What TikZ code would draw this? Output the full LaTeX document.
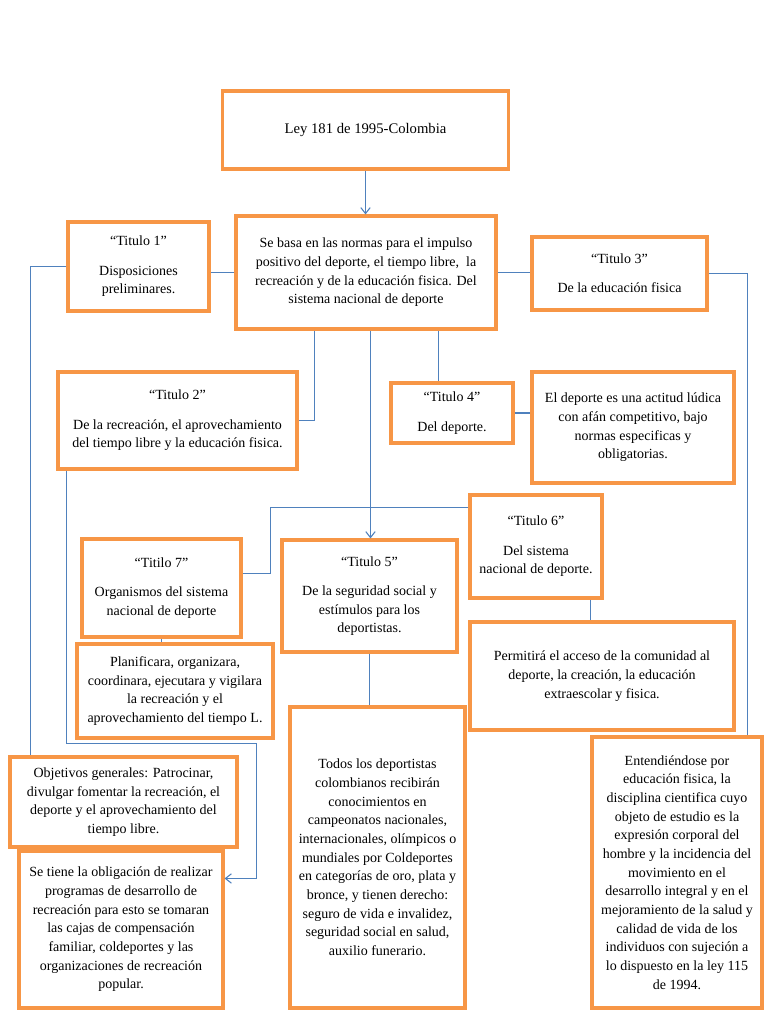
\documentclass[tikz,border=0pt]{standalone}
\usepackage{fontspec}
\setmainfont{Liberation Serif}
\usetikzlibrary{arrows.meta,calc}
\definecolor{boxorange}{HTML}{F79646}
\definecolor{lineblue}{HTML}{4F81BD}
\tikzset{
  box/.style={draw=boxorange, line width=2.3pt, fill=white, align=center,
    font=\fontsize{10.5pt}{14pt}\selectfont, inner sep=2pt},
  conn/.style={draw=lineblue, line width=0.8pt},
  arr/.style={conn, -{Straight Barb[length=4.5pt,width=7pt]}},
}
\newcommand{\tgap}{\\[8pt]}
\begin{document}
\begin{tikzpicture}[x=0.75pt,y=-0.75pt]
\useasboundingbox (0,0) rectangle (768,1024);
\fill[white] (0,0) rectangle (768,1024);

\node[box, minimum width=286*0.75pt, minimum height=78*0.75pt, font=\fontsize{11pt}{14pt}\selectfont] (ley) at (365.5,130) {Ley 181 de 1995-Colombia};
\node[box, minimum width=260*0.75pt, minimum height=113*0.75pt] (main) at (366,272.5) {Se basa en las normas para el impulso\\ positivo del deporte, el tiempo libre,\ \ la\\ recreación y de la educación fisica. Del\\ sistema nacional de deporte};
\node[box, minimum width=141*0.75pt, minimum height=89*0.75pt] (t1) at (138.5,266.5) {“Titulo 1”\tgap Disposiciones\\ preliminares.};
\node[box, minimum width=239*0.75pt, minimum height=97*0.75pt] (t2) at (177.5,420.5) {“Titulo 2”\tgap De la recreación, el aprovechamiento\\ del tiempo libre y la educación fisica.};
\node[box, minimum width=175*0.75pt, minimum height=73*0.75pt] (t3) at (619.5,273.5) {“Titulo 3”\tgap De la educación fisica};
\node[box, minimum width=122*0.75pt, minimum height=60*0.75pt] (t4) at (452,413) {“Titulo 4”\tgap Del deporte.};
\node[box, minimum width=202*0.75pt, minimum height=111*0.75pt] (dep) at (633,427.5) {El deporte es una actitud lúdica\\ con afán competitivo, bajo\\ normas especificas y\\ obligatorias.};
\node[box, minimum width=132*0.75pt, minimum height=103*0.75pt] (t6) at (536,546.5) {“Titulo 6”\tgap Del sistema\\ nacional de deporte.};
\node[box, minimum width=175*0.75pt, minimum height=112*0.75pt] (t5) at (369.5,596) {“Titulo 5”\tgap De la seguridad social y\\ estímulos para los\\ deportistas.};
\node[box, minimum width=159*0.75pt, minimum height=98*0.75pt] (t7) at (161.5,588) {“Titilo 7”\tgap Organismos del sistema\\ nacional de deporte};
\node[box, minimum width=196*0.75pt, minimum height=94*0.75pt] (plan) at (175,691) {Planificara, organizara,\\ coordinara, ejecutara y vigilara\\ la recreación y el\\ aprovechamiento del tiempo L.};
\node[box, minimum width=264*0.75pt, minimum height=108*0.75pt] (perm) at (602,676) {Permitirá el acceso de la comunidad al\\ deporte, la creación, la educación\\ extraescolar y fisica.};
\node[box, minimum width=175*0.75pt, minimum height=301*0.75pt] (todos) at (377.5,857.5) {Todos los deportistas\\ colombianos recibirán\\ conocimientos en\\ campeonatos nacionales,\\ internacionales, olímpicos o\\ mundiales por Coldeportes\\ en categorías de oro, plata y\\ bronce, y tienen derecho:\\ seguro de vida e invalidez,\\ seguridad social en salud,\\ auxilio funerario.};
\node[box, minimum width=170*0.75pt, minimum height=271*0.75pt] (ent) at (677,872.5) {Entendiéndose por\\ educación fisica, la\\ disciplina cientifica cuyo\\ objeto de estudio es la\\ expresión corporal del\\ hombre y la incidencia del\\ movimiento en el\\ desarrollo integral y en el\\ mejoramiento de la salud y\\ calidad de vida de los\\ individuos con sujeción a\\ lo dispuesto en la ley 115\\ de 1994.};
\node[box, minimum width=227*0.75pt, minimum height=90*0.75pt] (obj) at (123.5,802) {Objetivos generales: Patrocinar,\\ divulgar fomentar la recreación, el\\ deporte y el aprovechamiento del\\ tiempo libre.};
\node[box, minimum width=204*0.75pt, minimum height=157*0.75pt] (setiene) at (121,929.5) {Se tiene la obligación de realizar\\ programas de desarrollo de\\ recreación para esto se tomaran\\ las cajas de compensación\\ familiar, coldeportes y las\\ organizaciones de recreación\\ popular.};

% helper coordinates
\coordinate (m2) at ($(main.south west)+(80,0)$);
\coordinate (m5) at ($(main.south west)+(136,0)$);
\coordinate (m4) at ($(main.south west)+(204,0)$);
\coordinate (t6a) at ($(t6.north west)+(0,14)$);
\coordinate (t7a) at ($(t7.north east)+(0,36)$);
\coordinate (t7b) at ($(t7.north east)+(28,36)$);
\coordinate (t6b) at ($(t6.south west)+(122,0)$);
\coordinate (objt) at ($(obj.north west)+(22,0)$);
\coordinate (entt) at ($(ent.north east)+(-16,0)$);
\coordinate (t2b) at ($(t2.south west)+(10,0)$);
\coordinate (bend) at ($(setiene.north east)+(32,-106)$);
\coordinate (sete) at ($(setiene.north east)+(0,29)$);

% connectors
\draw[arr] (ley.south) -- (ley.south |- main.north);
\draw[conn] (main.west) -- (main.west -| t1.east);
\draw[conn] (t1.west) -| (objt);
\draw[conn] (main.east) -- (main.east -| t3.west);
\draw[conn] (t3.east) -| (entt);
\draw[conn] (m2) |- (t2.east);
\draw[conn] (m4) -- (m4 |- t4.north);
\draw[arr] (m5) -- (m5 |- t5.north);
\draw[conn] (t4.east) -- (t4.east -| dep.west);
\draw[conn] (t6a) -| (t7b) -- (t7a);
\draw[conn] (t7.south) -- (t7.south |- plan.north);
\draw[conn] (t5.south) -- (t5.south |- todos.north);
\draw[conn] (t6b) -- (t6b |- perm.north);
\draw[arr] (t2b) |- (bend) |- (sete);
\end{tikzpicture}
\end{document}
